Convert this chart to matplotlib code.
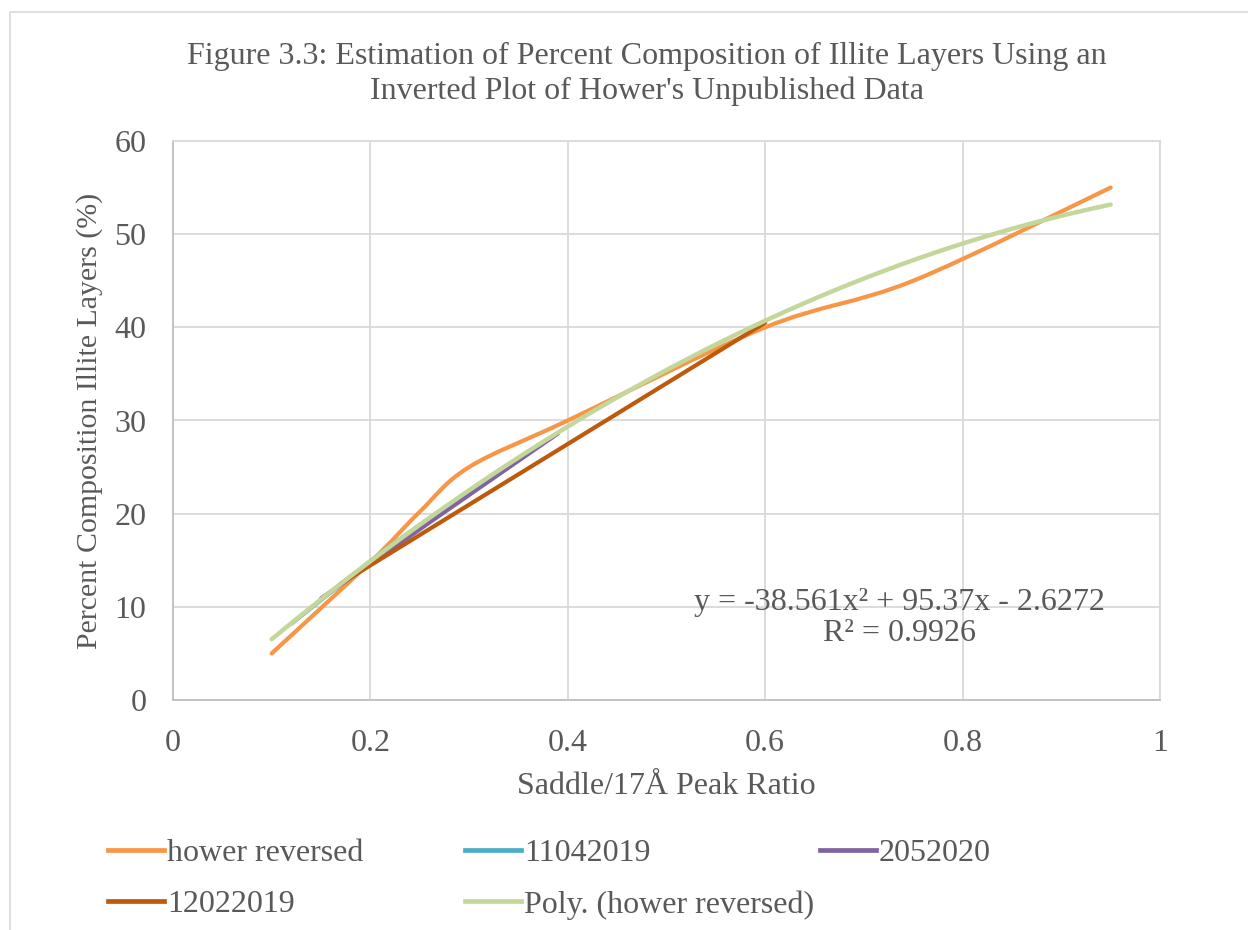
import numpy as np
import matplotlib
matplotlib.use("Agg")
import matplotlib.pyplot as plt
from matplotlib.path import Path
from matplotlib.patches import PathPatch, Rectangle
from matplotlib.lines import Line2D

# data
hower_x = [0.10, 0.20, 0.25, 0.30, 0.40, 0.60, 0.75, 0.95]
hower_y = [5.0, 14.8, 20.2, 25.0, 30.0, 40.0, 45.0, 55.0]

s11042019_x = [0.12, 0.22, 0.33]
s11042019_y = [8.2, 16.5, 24.6]

s2052020_x = [0.15, 0.27, 0.39]
s2052020_y = [10.9, 19.8, 28.6]

s12022019_x = [0.17, 0.60]
s12022019_y = [12.5, 40.5]

# trendline coefficients as printed on the chart
poly_coef = [-38.561, 95.37, -2.6272]
poly_r2 = 0.9926
poly_range = (0.10, 0.95)

x_ticks = [0, 0.2, 0.4, 0.6, 0.8, 1]
x_ticklabels = ["0", "0.2", "0.4", "0.6", "0.8", "1"]
y_ticks = [0, 10, 20, 30, 40, 50, 60]

C_ORANGE = "#F79646"
C_BLUE = "#4BACC6"
C_PURPLE = "#8064A2"
C_BROWN = "#BE5A0C"
C_GREEN = "#C4D79B"
TXT = "#595959"
FS = 23

plt.rcParams["font.family"] = ["Liberation Serif", "DejaVu Serif"]


# excel-like smoothed line: cubic bezier through the points
def smooth_line(ax, xs, ys, color, lw=3.0, zorder=3):
    pts = np.column_stack([xs, ys]).astype(float)
    n = len(pts)
    if n == 2:
        ax.plot(xs, ys, color=color, lw=lw, solid_capstyle="round", zorder=zorder)
        return
    verts = [pts[0]]
    codes = [Path.MOVETO]
    for i in range(n - 1):
        p0 = pts[i - 1] if i > 0 else pts[i]
        p1 = pts[i]
        p2 = pts[i + 1]
        p3 = pts[i + 2] if i + 2 < n else pts[i + 1]
        c1 = p1 + (p2 - p0) / 6.0
        c2 = p2 - (p3 - p1) / 6.0
        verts += [c1, c2, p2]
        codes += [Path.CURVE4] * 3
    patch = PathPatch(Path(verts, codes), facecolor="none", edgecolor=color,
                      lw=lw, capstyle="round", joinstyle="round", zorder=zorder)
    ax.add_patch(patch)


fig = plt.figure(figsize=(12.48, 9.30), dpi=100)
ax = fig.add_axes([173 / 1248, 1 - 700 / 930, (1160 - 173) / 1248, (700 - 141) / 930])

# outer chart border
fig.patches.append(Rectangle((10 / 1248, -0.1), 1.2, 1.1 - 12 / 930, transform=fig.transFigure,
                             fill=False, edgecolor="#D9D9D9", lw=1.2))

smooth_line(ax, hower_x, hower_y, C_ORANGE)
smooth_line(ax, s11042019_x, s11042019_y, C_BLUE)
smooth_line(ax, s2052020_x, s2052020_y, C_PURPLE)
smooth_line(ax, s12022019_x, s12022019_y, C_BROWN)

px = np.linspace(poly_range[0], poly_range[1], 200)
ax.plot(px, np.polyval(poly_coef, px), color=C_GREEN, lw=3.2, solid_capstyle="round", zorder=4)

ax.set_xlim(0, 1)
ax.set_ylim(0, 60)
ax.set_xticks(x_ticks)
ax.set_xticklabels(x_ticklabels)
ax.set_yticks(y_ticks)
ax.grid(True, color="#D9D9D9", lw=1.3)
ax.set_axisbelow(True)
ax.tick_params(length=0, labelsize=FS, labelcolor=TXT)
ax.tick_params(axis="x", pad=21)
ax.tick_params(axis="y", pad=19)
for sp in ax.spines.values():
    sp.set_color("#D9D9D9")
    sp.set_linewidth(1.3)
ax.spines["left"].set_color("#BFBFBF")
ax.spines["bottom"].set_color("#BFBFBF")

ax.set_xlabel("Saddle/17Å Peak Ratio", fontsize=FS, color=TXT, labelpad=10)
ax.set_ylabel("Percent Composition Illite Layers (%)", fontsize=21.5, color=TXT, labelpad=8)

fig.text(647 / 1248, 1 - 74 / 930,
         "Figure 3.3: Estimation of Percent Composition of Illite Layers Using an\n"
         "Inverted Plot of Hower's Unpublished Data",
         ha="center", va="center", fontsize=FS, color=TXT, linespacing=1.27)

eq = "y = {:.3f}x² + {:.2f}x - {:.4f}".format(poly_coef[0], poly_coef[1], -poly_coef[2])
ax.text(0.736, 8.8, eq + "\nR² = {:.4f}".format(poly_r2), ha="center", va="center",
        fontsize=FS, color=TXT, linespacing=1.1, zorder=5)

# legend: three equal-width columns like the original
legend_cols = [
    (108, [(C_ORANGE, "hower reversed"), (C_BROWN, "12022019")]),
    (465, [(C_BLUE, "11042019"), (C_GREEN, "Poly. (hower reversed)")]),
    (820, [(C_PURPLE, "2052020")]),
]
for x0, entries in legend_cols:
    hs = [Line2D([], [], color=c, lw=3.4) for c, _ in entries]
    lab = [t for _, t in entries]
    fig.legend(hs, lab, loc="upper left", bbox_to_anchor=(x0 / 1248, 1 - 839 / 930),
               frameon=False, fontsize=FS, labelcolor=TXT, handlelength=1.75,
               handletextpad=0.1, labelspacing=0.68, borderpad=0, borderaxespad=0)

fig.savefig("out.png", dpi=100)
